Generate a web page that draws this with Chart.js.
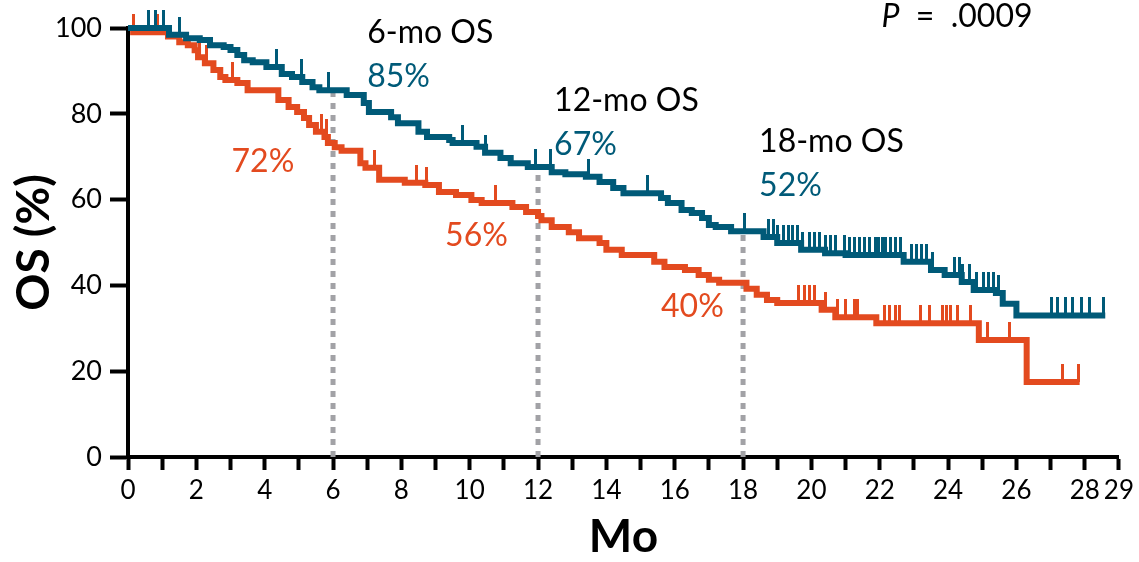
<!DOCTYPE html>
<html>
<head>
<meta charset="utf-8">
<script src="https://cdn.jsdelivr.net/npm/chart.js@4/dist/chart.umd.min.js"></script>
<style>
html, body { margin: 0; padding: 0; background: #fff; }
#wrap { width: 1139px; height: 562px; }
</style>
</head>
<body>
<div id="wrap"><canvas id="km"></canvas></div>
<script>
// courbe bleue (teal) : temps (mois) et OS (%)
const tealTime = [0, 1.2, 1.7, 2.1, 2.4, 2.8, 3.0, 3.2, 3.4, 3.65, 4.05, 4.5, 4.8, 5.1, 5.4, 5.6, 6.4, 6.9, 7.05, 7.7,
    7.9, 8.5, 8.75, 9.4, 9.5, 10.2, 10.45, 10.9, 11.2, 11.7, 12.4, 12.8, 13.4, 13.8, 14.2, 14.5, 15.6, 15.8, 16.2, 16.5,
    16.8, 17.0, 17.2, 17.65, 18.6, 19.0, 19.7, 20.4, 21.0, 22.7, 23.5, 23.9, 24.4, 24.75, 25.4, 25.6, 26.0, 28.6];
const tealOS = [100, 98.4, 97.6, 97.2, 96.0, 95.6, 94.9, 93.7, 92.5, 92.0, 90.9, 89.3, 88.6, 87.4, 86.2, 85.5, 84.4, 82.5, 80.4, 79.2,
    77.8, 75.8, 74.6, 73.9, 73.2, 72.3, 70.9, 69.7, 68.5, 67.6, 66.4, 65.9, 65.3, 64.1, 62.7, 61.5, 60.4, 59.2, 57.6, 56.9,
    55.7, 54.1, 53.6, 52.6, 51.3, 49.9, 48.3, 47.5, 47.1, 45.5, 43.6, 42.4, 40.8, 38.9, 38.2, 35.7, 33.0, 33.0];
const tealCensor = [0.6, 0.8, 1.05, 1.5, 4.35, 5.08, 5.87, 9.78, 10.45, 11.93, 12.37, 13.48, 15.2, 18.03, 18.75, 18.9, 19.0,
    19.19, 19.34, 19.46, 19.6, 19.75, 19.95, 20.1, 20.24, 20.41, 20.56, 20.71, 20.96, 21.11, 21.27, 21.41, 21.56, 21.7, 21.87,
    21.97, 22.07, 22.17, 22.32, 22.46, 22.62, 22.92, 23.07, 23.22, 23.37, 23.53, 24.18, 24.33, 24.43, 24.63, 24.82, 25.03,
    25.19, 25.34, 25.49, 27.04, 27.19, 27.45, 27.65, 27.9, 28.15, 28.56];

// courbe orange
const orangeTime = [0, 0.15, 1.17, 1.5, 1.75, 1.95, 2.05, 2.25, 2.5, 2.7, 2.85, 3.2, 3.5, 4.4, 4.7, 4.95, 5.15, 5.3, 5.5, 5.75,
    5.85, 6.05, 6.25, 6.8, 6.95, 7.35, 8.1, 8.7, 9.1, 9.6, 10.05, 10.35, 11.25, 11.65, 12.0, 12.1, 12.4, 12.9, 13.2, 13.8,
    14.0, 14.45, 15.4, 15.7, 16.3, 16.7, 17.0, 17.3, 18.1, 18.4, 18.7, 19.0, 20.3, 20.7, 21.9, 24.9, 26.3, 27.85];
const orangeOS = [100, 99, 98, 96.7, 96, 94.8, 93.2, 91.8, 90.2, 88.6, 87.9, 87.2, 85.5, 83.2, 81.6, 80.4, 79.0, 77.4, 75.8, 74.6,
    73.2, 72.2, 71.4, 68.5, 67.4, 64.6, 63.9, 63.4, 61.8, 61.1, 59.9, 59.2, 58.3, 57.1, 56.2, 55.2, 53.6, 52.4, 51.0, 49.9,
    48.3, 47.1, 45.5, 44.3, 43.6, 42.4, 41.3, 40.6, 39.2, 37.8, 36.6, 35.9, 34.3, 32.6, 31.2, 27.3, 17.5, 17.5];
const orangeCensor = [0.15, 0.85, 2.1, 2.3, 3.05, 5.65, 5.8, 7.2, 8.45, 8.75, 10.75, 19.63, 19.8, 19.95, 20.1, 20.4, 20.77,
    21.0, 21.27, 21.35, 22.14, 22.3, 22.45, 22.58, 23.2, 23.45, 23.83, 23.95, 24.07, 24.27, 24.65, 25.15, 25.8, 27.36, 27.83];

// reperes 6, 12, 18 mois
const milestoneMonths = [6, 12, 18];
const tealMilestoneOS = [85, 67, 52];
const orangeMilestoneOS = [72, 56, 40];
const pValue = '.0009';

const TEAL = '#005a78';
const ORANGE = '#e34a1f';
const GREY = '#a2a2a6';

Chart.defaults.font.family = 'Lato';
Chart.defaults.color = '#000';

// valeur de la courbe en escalier au temps t
function osAt(times, vals, t) {
    let v = vals[0];
    for (let i = 0; i < times.length; i++) {
        if (times[i] <= t) v = vals[i];
    }
    return v;
}

// petit trait vertical vers le haut (censure)
function censorMark(color) {
    const c = document.createElement('canvas');
    c.width = 3;
    c.height = 36;
    const g = c.getContext('2d');
    g.fillStyle = color;
    g.fillRect(0, 0, 3, 18);
    return c;
}

function curve(times, vals) {
    return times.map((t, i) => ({x: t, y: vals[i]}));
}

function censors(list, times, vals) {
    return list.map(t => ({x: t, y: osAt(times, vals, t)}));
}

const datasets = [
    {data: curve(tealTime, tealOS), borderColor: TEAL, borderWidth: 6, stepped: 'before', pointRadius: 0, clip: false},
    {data: curve(orangeTime, orangeOS), borderColor: ORANGE, borderWidth: 6, stepped: 'before', pointRadius: 0, clip: false},
    {data: censors(tealCensor, tealTime, tealOS), showLine: false, pointStyle: censorMark(TEAL), pointRadius: 3, clip: false},
    {data: censors(orangeCensor, orangeTime, orangeOS), showLine: false, pointStyle: censorMark(ORANGE), pointRadius: 3, clip: false}
];

milestoneMonths.forEach(m => {
    datasets.push({
        data: [{x: m, y: 0}, {x: m, y: osAt(tealTime, tealOS, m)}],
        borderColor: GREY, borderWidth: 5, borderDash: [6, 6], borderCapStyle: 'butt',
        pointRadius: 0, clip: false
    });
});

// textes : 'N-mo OS', pourcentages et P
const notes = {
    id: 'notes',
    afterDraw(chart) {
        const ctx = chart.ctx;
        const xs = chart.scales.x, ys = chart.scales.y;
        const headY = [98.8, 83, 73.4];
        const orangeX = [3.03, 9.28, 15.6];
        const orangeY = [68.8, 51.7, 35];
        ctx.save();
        ctx.textBaseline = 'middle';
        ctx.textAlign = 'left';
        ctx.font = '32px Lato';
        milestoneMonths.forEach((m, i) => {
            const x = xs.getPixelForValue(m + (i === 0 ? 1.0 : 0.47));
            ctx.fillStyle = '#000';
            ctx.fillText(m + '-mo OS', x, ys.getPixelForValue(headY[i]));
            ctx.fillStyle = TEAL;
            ctx.fillText(tealMilestoneOS[i] + '%', x, ys.getPixelForValue(headY[i] - 10.2));
            ctx.fillStyle = ORANGE;
            ctx.fillText(orangeMilestoneOS[i] + '%', xs.getPixelForValue(orangeX[i]), ys.getPixelForValue(orangeY[i]));
        });
        // P = .0009
        const px = xs.getPixelForValue(22.05), py = ys.getPixelForValue(102.6);
        ctx.fillStyle = '#000';
        ctx.font = 'italic 32px Lato';
        ctx.fillText('P', px, py);
        const w = ctx.measureText('P').width;
        ctx.font = '32px Lato';
        ctx.fillText('  =  ' + pValue, px + w, py);
        ctx.restore();
    }
};

new Chart(document.getElementById('km').getContext('2d'), {
    type: 'line',
    data: {datasets: datasets},
    options: {
        responsive: true,
        maintainAspectRatio: false,
        animation: false,
        layout: {padding: {top: 28, right: 17, left: 0, bottom: 0}},
        plugins: {legend: {display: false}, tooltip: {enabled: false}},
        scales: {
            x: {
                type: 'linear', min: 0, max: 29,
                border: {color: '#000', width: 4},
                grid: {drawOnChartArea: false, drawTicks: true, tickLength: 13, tickWidth: 4, tickColor: '#000'},
                ticks: {
                    stepSize: 1, autoSkip: false, maxRotation: 0, padding: 5,
                    font: {size: 26},
                    callback: v => (v % 2 === 0 || v === 29) ? String(v) : ''
                },
                title: {display: true, text: 'Mo', font: {size: 46, weight: 'bold', lineHeight: 1}, padding: {top: 0, bottom: 2}},
                afterFit: s => { s.height = 105; }
            },
            y: {
                min: 0, max: 100,
                border: {color: '#000', width: 4},
                grid: {drawOnChartArea: false, drawTicks: true, tickLength: 18, tickWidth: 4, tickColor: '#000'},
                ticks: {stepSize: 20, padding: 8, font: {size: 27}},
                title: {display: true, text: 'OS (%)', font: {size: 46, weight: 'bold', lineHeight: 1}, padding: {top: 11, bottom: 0}},
                afterFit: s => { s.width = 128; }
            }
        }
    },
    plugins: [notes]
});
</script>
</body>
</html>
